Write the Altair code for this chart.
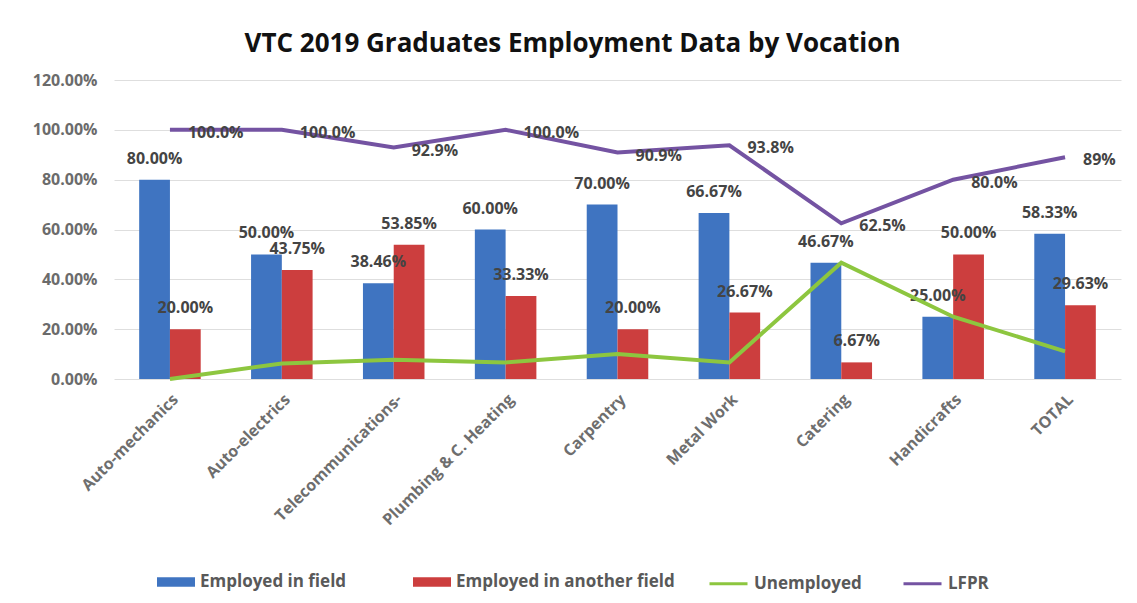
import altair as alt
import pandas as pd

categories = ["Auto-mechanics", "Auto-electrics", "Telecommunications-", "Plumbing & C. Heating",
              "Carpentry", "Metal Work", "Catering", "Handicrafts", "TOTAL"]
employed_in_field = [0.80, 0.50, 0.3846, 0.60, 0.70, 0.6667, 0.4667, 0.25, 0.5833]
employed_other = [0.20, 0.4375, 0.5385, 0.3333, 0.20, 0.2667, 0.0667, 0.50, 0.2963]
unemployed = [0.0, 0.0625, 0.0769, 0.0667, 0.10, 0.0667, 0.4667, 0.25, 0.111]
lfpr = [1.00, 1.00, 0.929, 1.00, 0.909, 0.938, 0.625, 0.80, 0.89]
lfpr_labels = ["100.0%", "100.0%", "92.9%", "100.0%", "90.9%", "93.8%", "62.5%", "80.0%", "89%"]

bar_series = ["Employed in field", "Employed in another field"]
line_series = ["Unemployed", "LFPR"]

rows = []
for i, c in enumerate(categories):
    rows.append({"cat": c, "series": bar_series[0], "value": employed_in_field[i]})
    rows.append({"cat": c, "series": bar_series[1], "value": employed_other[i]})
bars_df = pd.DataFrame(rows)

lrows = []
for i, c in enumerate(categories):
    lrows.append({"cat": c, "series": line_series[0], "value": unemployed[i], "label": ""})
    lrows.append({"cat": c, "series": line_series[1], "value": lfpr[i], "label": lfpr_labels[i]})
lines_df = pd.DataFrame(lrows)

FONT = "Open Sans"
TXT = "#595959"

x_enc = alt.X("cat:N", sort=categories, title=None,
              scale=alt.Scale(paddingInner=0.45, paddingOuter=0.225),
              axis=alt.Axis(labelAngle=-45, labelFontSize=16, labelFontWeight="bold",
                            labelColor="#6e6e6e", labelFont=FONT,
                            ticks=False, domain=False, labelPadding=12, labelLimit=300))
y_enc = alt.Y("value:Q", title=None,
              scale=alt.Scale(domain=[0, 1.2]),
              axis=alt.Axis(values=[0, 0.2, 0.4, 0.6, 0.8, 1.0, 1.2], format=".2%",
                            labelFontSize=16, labelFontWeight="bold", labelColor="#6b6b6b",
                            labelFont=FONT, ticks=False, domain=False, labelPadding=17,
                            gridColor="#dedede", gridWidth=1))

base_bar = alt.Chart(bars_df).encode(
    x=x_enc,
    xOffset=alt.XOffset("series:N", sort=bar_series),
)

bars = base_bar.mark_bar().encode(
    y=y_enc,
    color=alt.Color("series:N", sort=bar_series,
                    scale=alt.Scale(domain=bar_series, range=["#3f74c1", "#cc3e3e"]),
                    legend=alt.Legend(title=None, orient="none", legendX=43, legendY=483,
                                      direction="horizontal",
                                      symbolType="M-1,-0.25H1V0.25H-1Z", symbolSize=1444,
                                      symbolStrokeWidth=0, labelOffset=5,
                                      labelFontSize=17, labelFontWeight="bold",
                                      labelColor=TXT, labelFont=FONT, columnPadding=66,
                                      labelLimit=400)),
)

bar_text = base_bar.mark_text(fontSize=16, fontWeight="bold", color="#444444", font=FONT,
                              baseline="alphabetic", dy=-16).encode(
    y="value:Q",
    text=alt.Text("value:Q", format=".2%"),
)

line_base = alt.Chart(lines_df).encode(x=alt.X("cat:N", sort=categories))

lines = line_base.mark_line(strokeWidth=4).encode(
    y="value:Q",
    detail="series:N",
    stroke=alt.Stroke("series:N", sort=line_series,
                      scale=alt.Scale(domain=line_series, range=["#8dc63f", "#7453a2"]),
                      legend=alt.Legend(title=None, orient="none", legendX=594, legendY=483,
                                        direction="horizontal",
                                        symbolType="stroke", symbolSize=1444,
                                        symbolStrokeWidth=3, labelOffset=5,
                                        labelFontSize=17, labelFontWeight="bold",
                                        labelColor=TXT, labelFont=FONT, columnPadding=35,
                                        labelLimit=400)),
)

lfpr_text = line_base.transform_filter(alt.datum.series == "LFPR").mark_text(
    fontSize=16, fontWeight="bold", color="#444444", font=FONT,
    align="left", baseline="middle", dx=18, dy=3).encode(
    y="value:Q",
    text="label:N",
)

chart = alt.layer(bars, bar_text, lines, lfpr_text).resolve_scale(
    color="independent", stroke="independent"
).properties(
    width=1007,
    height=299,
    title=alt.TitleParams("VTC 2019 Graduates Employment Data by Vocation", fontSize=26,
                          font=FONT, fontWeight="bold", color="#111111", anchor="middle",
                          offset=15, dx=-45),
    autosize=alt.AutoSizeParams(type="none"),
    padding={"left": 106, "top": 72, "right": 8, "bottom": 224},
).configure(background="white").configure_view(stroke=None)

chart.save("out.html", embed_options={"renderer": "svg", "actions": False})
